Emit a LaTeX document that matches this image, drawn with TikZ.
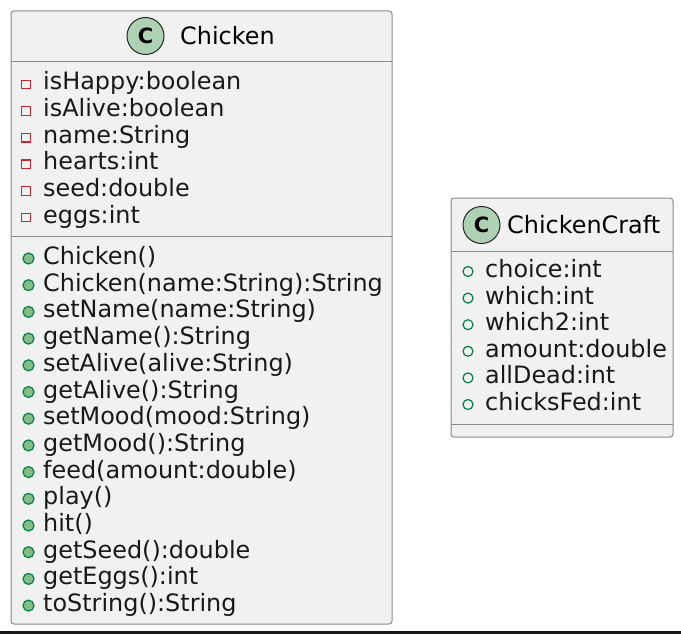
\documentclass[tikz,border=0pt]{standalone}
\usepackage{fontspec}
\setmainfont{DejaVu Sans}
\definecolor{boxfill}{HTML}{F1F1F1}
\definecolor{boxline}{HTML}{8A8A8A}
\definecolor{cfill}{HTML}{ADD1B2}
\definecolor{privred}{HTML}{C82930}
\definecolor{pubgreen}{HTML}{038048}
\definecolor{methfill}{HTML}{84BE84}
\tikzset{
  classbox/.style={draw=boxline, fill=boxfill, line width=1pt, rounded corners=3pt},
  divider/.style={draw=boxline, line width=1pt},
  cicon/.style={circle, draw=black!85, fill=cfill, line width=1pt, minimum size=37pt, inner sep=0pt, font=\fontsize{21}{24}\selectfont\bfseries},
  title/.style={anchor=base west, inner sep=0pt, font=\fontsize{23.9}{27}\selectfont},
  member/.style={anchor=base west, inner sep=0pt, font=\fontsize{23.9}{27}\selectfont, text=black!90},
  privicon/.style={draw=privred, line width=1.2pt, minimum size=8.5pt, inner sep=0pt},
  pubfield/.style={circle, draw=pubgreen, line width=1.2pt, minimum size=10pt, inner sep=0pt},
  pubmeth/.style={circle, draw=pubgreen, fill=methfill, line width=1.2pt, minimum size=11pt, inner sep=0pt},
}
\begin{document}
\begin{tikzpicture}[x=1pt,y=-1pt]
\useasboundingbox (0,0) rectangle (681,634);
\fill[white] (0,0) rectangle (681,634);
% bottom rule
\fill[black!90] (0,631) rectangle (681,634);

% ---------- Chicken ----------
\draw[classbox] (11,11) rectangle (392,624);
\coordinate (cl1) at (11,62);  \coordinate (cr1) at (392,62);
\coordinate (cl2) at (11,236); \coordinate (cr2) at (392,236);
\draw[divider] (cl1) -- (cr1);
\draw[divider] (cl2) -- (cr2);
\node[cicon] (cC) at (145.5,36) {C};
\node[title] (tC) at (180,44.4) {Chicken};

\foreach \t [count=\i from 0] in {isHappy:boolean, isAlive:boolean, name:String, hearts:int, seed:double, eggs:int}{
  \node[privicon] (pa\i) at (26,{84.5+\i*26.6}) {};
  \node[member] (a\i) at (43,{90+\i*26.6}) {\t};
}
\foreach \t [count=\i from 0] in {Chicken(), Chicken(name:String):String, setName(name:String), getName():String, setAlive(alive:String), getAlive():String, setMood(mood:String), getMood():String, feed(amount:double), play(), hit(), getSeed():double, getEggs():int, toString():String}{
  \node[pubmeth] (pm\i) at (28.5,{258.5+\i*26.7}) {};
  \node[member] (m\i) at (43,{264.5+\i*26.7}) {\t};
}

% ---------- ChickenCraft ----------
\draw[classbox] (451,198) rectangle (673,437);
\coordinate (dl1) at (451,251); \coordinate (dr1) at (673,251);
\coordinate (dl2) at (451,424); \coordinate (dr2) at (673,424);
\draw[divider] (dl1) -- (dr1);
\draw[divider] (dl2) -- (dr2);
\node[cicon] (cCC) at (481.5,225) {C};
\node[title] (tCC) at (507,233.4) {ChickenCraft};

\foreach \t [count=\i from 0] in {choice:int, which:int, which2:int, amount:double, allDead:int, chicksFed:int}{
  \node[pubfield] (pf\i) at (468,{271.5+\i*26.6}) {};
  \node[member] (f\i) at (485,{277.5+\i*26.6}) {\t};
}
\end{tikzpicture}
\end{document}
